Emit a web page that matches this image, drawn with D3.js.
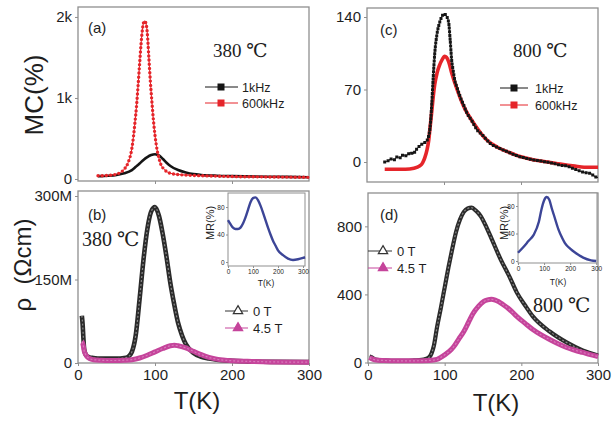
<!DOCTYPE html>
<html><head><meta charset="utf-8">
<script src="https://cdn.jsdelivr.net/npm/d3@7"></script>
<style>body{margin:0;background:#fff}svg{display:block}</style>
</head><body><svg id="c" width="612" height="422"></svg>
<script>
// ---------- DATA ----------
// (a) 380 C, MC(%)
const tA_1k = [26,30,40,50,60,70,75,80,85,90,95,100,103,106,110,115,120,130,140,150,160,180,200,250,300];
const mcA_1k = [35,35,40,50,70,110,150,190,235,270,295,305,300,285,250,200,160,110,80,60,50,40,35,28,22];
const tA_600k = [26,30,40,50,55,60,65,70,72,74,76,78,80,82,84,86,88,90,92,94,96,98,100,102,105,108,112,116,120,130,140,160,180,200,250,300];
const mcA_600k = [40,40,45,60,80,120,200,380,520,700,900,1150,1420,1680,1870,1950,1930,1800,1500,1200,950,720,540,400,260,170,120,85,70,55,48,40,35,30,25,20];
const yTicksA = [0,1000,2000], yLabelsA = ["0","1k","2k"];
// (c) 800 C, MC(%)
const tC_1k = [23,27,31,35,39,43,47,51,56,60,64,69,73,78,80,82,84,86,88,91,94,97,100,103,106,108,110,112,114,117,121,125,130,136,143,150,160,170,182,195,210,225,240,251,260,270,282,290,296,300];
const mcC_1k = [0,1,3,2,5,4,7,6,9,8,12,16,18,21,25,34,55,82,105,124,134,140,143,141,135,118,98,88,79,72,63,56,47,40,31,26,18,14,10,6,3,1,-1,-3,-4,-7,-10,-11,-14,-15];
const tC_600k = [23,30,40,50,61,68,72,75,78,80,82,84,86,88,91,94,97,101,106,110,117,126,139,156,170,182,200,217,235,251,270,282,300];
const mcC_600k = [-7,-7,-7,-7,-6,-4,-1,4,12,20,34,48,63,75,86,93,98,102,97,86,70,53,37,21,14,10,5,2,0,-2,-4,-5,-5];
const yTicksC = [0,70,140];
// (b) 380 C, rho (Ohm cm), in M
const tB_0T = [5,6,7,8,10,12,15,20,30,40,50,60,65,70,75,80,85,90,95,100,105,110,115,120,125,130,135,140,150,160,170,180,200,220,250,300];
const rB_0T = [85,70,45,25,15,12,10,9,8,8,8,9,11,20,50,115,185,240,272,280,265,232,190,143,105,72,50,34,18,11,8,6,4,3,2,1.5];
const tB_45T = [5,6,7,8,10,12,15,20,30,40,50,60,70,80,90,100,110,120,125,130,140,150,160,170,180,200,220,250,300];
const rB_45T = [38,36,30,22,15,11,8,6,5,4.5,4.5,5,6,9,14,20,26,31,32,31,27,21,15,10,7,4,3,2,1.5];
const yTicksB = [0,150,300], yLabelsB = ["0","150M","300M"];
// (d) 800 C, rho
const tD_0T = [2,5,8,12,20,30,40,50,60,70,75,80,83,86,90,95,100,105,110,115,120,125,130,135,140,147,155,160,173,185,194,205,215,237,259,280,300];
const rD_0T = [35,30,20,15,12,10,10,10,12,15,20,32,55,100,206,320,440,560,670,770,840,885,905,910,895,860,790,740,606,500,412,335,271,182,118,71,41];
const tD_45T = [2,5,10,20,40,60,80,90,95,100,106,112,118,125,131,137,144,151,156,161,166,176,185,194,205,215,226,237,248,259,270,280,290,300];
const rD_45T = [30,22,15,12,10,10,12,18,30,45,65,94,135,182,235,288,330,359,368,371,366,341,310,271,230,194,162,135,110,88,72,59,46,35];
const yTicksD = [0,400,800];
// insets MR(%)
const tInsB = [0,10,20,30,40,50,60,70,80,90,100,110,120,130,140,150,160,170,180,190,200,220,240,260,280,300,308];
const mrInsB = [61,55,50,48,48,50,56,65,76,87,93,94,90,82,72,61,50,40,31,24,17,10,5,3,4,6,7];
const tInsD = [0,20,40,60,80,90,100,110,120,130,140,155,170,180,200,220,250,280,300];
const mrInsD = [12,20,29,38,57,75,88,93,89,76,64,46,33,26,18,12,5,1,0];
const xTicksMain = [0,100,200,300];
const insTicksX = [0,100,200,300], insTicksY = [0,40,80];

// ---------- DRAW ----------
const svg = d3.select("#c");
const SANS = "Arial, 'Liberation Sans', sans-serif";
const SERIF = "'Liberation Serif', 'Times New Roman', 'DejaVu Serif', serif";
const GRAY = "#8f8f8f";
const RED = "#e5252a", PINK = "#c5449b", BLUE = "#3c4597", BLK = "#151515";

function panel(o){
  const x = d3.scaleLinear().domain(o.xd).range([o.x0,o.x1]);
  const y = d3.scaleLinear().domain(o.yd).range([o.y1,o.y0]);
  const g = svg.append("g");
  g.append("rect").attr("x",o.x0).attr("y",o.y0).attr("width",o.x1-o.x0).attr("height",o.y1-o.y0)
    .attr("fill","#fff").attr("stroke",GRAY).attr("stroke-width",o.sw||1.3);
  const ax = g.append("g").attr("transform",`translate(0,${o.y1})`)
    .call(d3.axisBottom(x).tickValues(o.xTicks).tickSize(o.tl).tickPadding(o.tp).tickSizeOuter(0)
      .tickFormat(o.xLab ? d3.format("d") : ()=>""));
  const ay = g.append("g").attr("transform",`translate(${o.x0},0)`)
    .call(d3.axisLeft(y).tickValues(o.yTicks).tickSize(o.tl).tickPadding(o.tp).tickSizeOuter(0)
      .tickFormat((d,i)=> o.yLabels ? o.yLabels[i] : d));
  [ax,ay].forEach(a=>{
    a.select(".domain").remove();
    a.selectAll("line").attr("stroke",GRAY).attr("stroke-width",1);
    a.selectAll("text").attr("font-family",SANS).attr("font-size",o.fs).attr("fill","#1e1e1e");
  });
  return {x,y,g};
}
function curve(p, ts, vs, color, width, dash, cap){
  const data = ts.map((t,i)=>[t,vs[i]]);
  const line = d3.line().x(d=>p.x(d[0])).y(d=>p.y(d[1])).curve(d3.curveMonotoneX);
  const path = p.g.append("path").datum(data).attr("d",line).attr("fill","none")
    .attr("stroke",color).attr("stroke-width",width).attr("stroke-linejoin","round");
  if(dash) path.attr("stroke-dasharray",dash).attr("stroke-linecap",cap||"round");
  return path;
}
function txt(x,y,s,size,fam,extra){
  const t = svg.append("text").attr("x",x).attr("y",y).text(s).attr("font-size",size)
    .attr("font-family",fam||SANS).attr("fill","#1e1e1e");
  if(extra) extra(t);
  return t;
}

// Panel (a)
const pA = panel({x0:78,x1:309,y0:7,y1:181,xd:[0,300],yd:[-25,2123],xTicks:[100,200],yTicks:yTicksA,yLabels:yLabelsA,tl:3,tp:3,fs:15});
curve(pA,tA_1k,mcA_1k,BLK,2.6);
curve(pA,tA_600k,mcA_600k,RED,1);
curve(pA,tA_600k,mcA_600k,RED,3.4,"0 4.2");
// Panel (c)
const pC = panel({x0:367,x1:598,y0:8,y1:182,xd:[0,300],yd:[-19.3,148.7],xTicks:[100,200],yTicks:yTicksC,tl:3,tp:3,fs:15});
curve(pC,tC_600k,mcC_600k,RED,3.6);
curve(pC,tC_1k,mcC_1k,BLK,1);
curve(pC,tC_1k,mcC_1k,BLK,3,"0 3.6","square");
// Panel (b)
const pB = panel({x0:78,x1:309,y0:191,y1:363,xd:[0,300],yd:[0,309],xTicks:xTicksMain,xLab:true,yTicks:yTicksB,yLabels:yLabelsB,tl:3,tp:3,fs:15});
curve(pB,tB_0T,rB_0T,"#2b2b2b",4.6);
curve(pB,tB_0T,rB_0T,"#8a8a8a",1.2,"2 2","butt");
curve(pB,tB_45T,rB_45T,PINK,5);
curve(pB,tB_45T,rB_45T,"#d87bbb",1.2,"2 2","butt");
// Panel (d)
const pD = panel({x0:368,x1:598,y0:193,y1:363,xd:[0,300],yd:[-3,996],xTicks:xTicksMain,xLab:true,yTicks:yTicksD,tl:3,tp:3,fs:15});
curve(pD,tD_0T,rD_0T,"#2b2b2b",4.2);
curve(pD,tD_0T,rD_0T,"#8a8a8a",1.2,"2 2","butt");
curve(pD,tD_45T,rD_45T,PINK,5);
curve(pD,tD_45T,rD_45T,"#d87bbb",1.2,"2 2","butt");

// Insets
const iB = panel({x0:228,x1:305,y0:193,y1:266,xd:[0,308],yd:[-5.8,100.4],xTicks:insTicksX,xLab:true,yTicks:insTicksY,tl:2,tp:1.5,fs:6.5,sw:1});
curve(iB,tInsB,mrInsB,BLUE,2.4);
const iD = panel({x0:518,x1:597,y0:193,y1:263,xd:[0,303],yd:[-2.9,98.9],xTicks:insTicksX,xLab:true,yTicks:insTicksY,tl:2,tp:1.5,fs:6.5,sw:1});
curve(iD,tInsD,mrInsD,BLUE,2.4);
txt(214,223,"MR(%)",11,SANS,t=>t.attr("text-anchor","middle").attr("transform","rotate(-90,214,223)"));
txt(508,223,"MR(%)",11,SANS,t=>t.attr("text-anchor","middle").attr("transform","rotate(-90,508,223)"));
txt(266,286,"T(K)",8.5,SANS,t=>t.attr("text-anchor","middle"));
txt(558,285,"T(K)",8.5,SANS,t=>t.attr("text-anchor","middle"));

// Panel labels
txt(88,33,"(a)",15); txt(380,35,"(c)",15); txt(88,220,"(b)",15); txt(380,220,"(d)",15);
txt(213,57,"380 ℃",19,SERIF); txt(513,57,"800 ℃",19,SERIF);
txt(82,246,"380 ℃",20,SERIF); txt(533,312,"800 ℃",20,SERIF);

// Axis titles
txt(43,95,"MC(%)",26,SANS,t=>t.attr("text-anchor","middle").attr("transform","rotate(-90,43,95)"));
txt(31,265,"ρ  (Ωcm)",24,SANS,t=>t.attr("text-anchor","middle").attr("xml:space","preserve").style("white-space","pre").attr("transform","rotate(-90,31,265)"));
txt(197,409,"T(K)",24,SANS,t=>t.attr("text-anchor","middle"));
txt(496,411,"T(K)",24,SANS,t=>t.attr("text-anchor","middle"));

// Legends
function legendRow(x1,x2,xm,y,marker,color,fill,label,tx,fs){
  svg.append("line").attr("x1",x1).attr("x2",x2).attr("y1",y).attr("y2",y).attr("stroke",color).attr("stroke-width",1);
  if(marker==="square"){
    svg.append("rect").attr("x",xm-3.5).attr("y",y-3.5).attr("width",7).attr("height",7).attr("fill",color);
  } else {
    svg.append("path").attr("d",d3.symbol(d3.symbolTriangle).size(38)()).attr("transform",`translate(${xm},${y})`)
      .attr("fill",fill).attr("stroke",color).attr("stroke-width",1.2);
  }
  txt(tx,y+4.5,label,fs);
}
legendRow(205,238,221,87,"square",BLK,BLK,"1kHz",242,12.5);
legendRow(205,238,221,103,"square",RED,RED,"600kHz",242,12.5);
legendRow(500,528,514,88,"square",BLK,BLK,"1kHz",535,12.5);
legendRow(500,528,514,105,"square",RED,RED,"600kHz",535,12.5);
legendRow(225,248,238,311,"tri","#333","#fff","0 T",253,13);
legendRow(225,248,238,328,"tri",PINK,PINK,"4.5 T",253,13);
legendRow(368,392,383,251,"tri","#333","#fff","0 T",397,13);
legendRow(368,392,383,268,"tri",PINK,PINK,"4.5 T",397,13);
</script>
</body></html>
